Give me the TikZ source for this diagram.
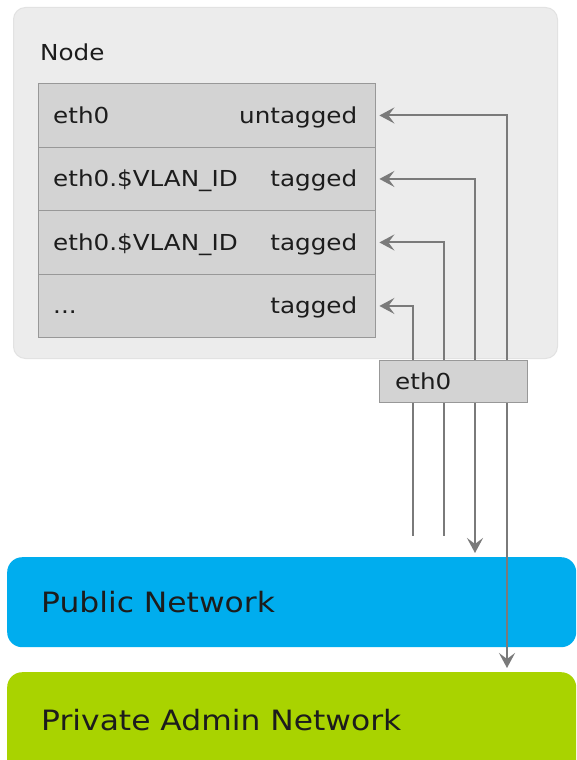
\documentclass[tikz,border=0pt]{standalone}
\usepackage{fontspec}
\setmainfont[FakeStretch=1.12]{DejaVu Sans}
\usetikzlibrary{arrows.meta,calc}
\definecolor{outerfill}{HTML}{ECECEC}
\definecolor{outerline}{HTML}{E2E2E2}
\definecolor{rowfill}{HTML}{D3D3D3}
\definecolor{rowline}{HTML}{989898}
\definecolor{connc}{HTML}{7A7A7A}
\definecolor{txt}{HTML}{1C1C1C}
\definecolor{pubblue}{HTML}{00ADEE}
\definecolor{privgreen}{HTML}{A9D300}
\tikzset{
  outerbox/.style={draw=outerline, fill=outerfill, rounded corners=12pt, line width=1pt},
  rowbox/.style={draw=rowline, fill=rowfill, line width=1.4pt, minimum width=337pt, minimum height=63.5pt, inner sep=0pt, anchor=north west},
  ethbox/.style={draw=rowline, fill=rowfill, line width=1.4pt, minimum width=148pt, minimum height=42pt, inner sep=0pt, anchor=north west},
  lbl/.style={text=txt, font=\fontsize{22}{26}\selectfont, inner sep=0pt},
  netlbl/.style={text=txt, font=\fontsize{28}{34}\selectfont, inner sep=0pt, anchor=base west},
  netbox/.style={rounded corners=15pt, minimum width=569pt, inner sep=0pt, anchor=north west},
  conn/.style={draw=connc, line width=2pt},
  tip/.style={-{Stealth[length=15pt,width=16pt,inset=6pt]}},
}
\begin{document}
\begin{tikzpicture}[x=1pt,y=-1pt]
\useasboundingbox (0,0) rectangle (576,760);
\clip (0,0) rectangle (576,760);
\fill[white] (0,0) rectangle (576,760);
% outer node container
\node[outerbox, minimum width=544pt, minimum height=351pt, anchor=north west, inner sep=0pt] (outer) at (13,7) {};
\node[lbl, anchor=base west] (nodelbl) at (40,60) {Node};
% rows
\node[rowbox] (r1) at (38,83) {};
\node[rowbox] (r2) at (38,146.5) {};
\node[rowbox] (r3) at (38,210) {};
\node[rowbox] (r4) at (38,273.5) {};
\node[lbl, anchor=base west] (l1) at ($(r1.west)+(15,8)$) {eth0};
\node[lbl, anchor=base west] (l2) at ($(r2.west)+(15,8)$) {eth0.\$VLAN\_ID};
\node[lbl, anchor=base west] (l3) at ($(r3.west)+(15,8)$) {eth0.\$VLAN\_ID};
\node[lbl, anchor=base west] (l4) at ($(r4.west)+(15,8)$) {...};
\node[lbl, anchor=base east] (t1) at ($(r1.east)+(-19,8)$) {untagged};
\node[lbl, anchor=base east] (t2) at ($(r2.east)+(-19,8)$) {tagged};
\node[lbl, anchor=base east] (t3) at ($(r3.east)+(-19,8)$) {tagged};
\node[lbl, anchor=base east] (t4) at ($(r4.east)+(-19,8)$) {tagged};
% networks
\node[netbox, fill=pubblue, minimum height=90pt] (pub) at (7,557) {};
\node[netbox, fill=privgreen, minimum height=110pt] (priv) at (7,672) {};
\node[netlbl] (publbl) at (41,612) {Public Network};
\node[netlbl] (privlbl) at (41,730) {Private Admin Network};
% eth0 physical box position
\coordinate (ebox) at (379,360);
\coordinate (v1) at (507,360);
\coordinate (v2) at (475,360);
\coordinate (v3) at (443.5,360);
\coordinate (v4) at (412.5,360);
\coordinate (f3) at (443.5,536);
\coordinate (f4) at (412.5,536);
% connectors up into the node
\draw[conn, tip, shorten >=3pt] (v1) |- (r1.east);
\draw[conn, tip, shorten >=3pt] (v2) |- (r2.east);
\draw[conn, tip, shorten >=3pt] (v3) |- (r3.east);
\draw[conn, tip, shorten >=3pt] (v4) |- (r4.east);
% connectors down to networks
\draw[conn] (v4) -- (f4);
\draw[conn] (v3) -- (f3);
\draw[conn, tip, shorten >=4pt] (v2) -- (v2 |- pub.north);
\draw[conn, tip, shorten >=4pt] (v1) -- (v1 |- priv.north);
% eth0 box on top
\node[ethbox] (e) at (ebox) {};
\node[lbl, anchor=base west] (elbl) at ($(e.west)+(16,8)$) {eth0};
\end{tikzpicture}
\end{document}
